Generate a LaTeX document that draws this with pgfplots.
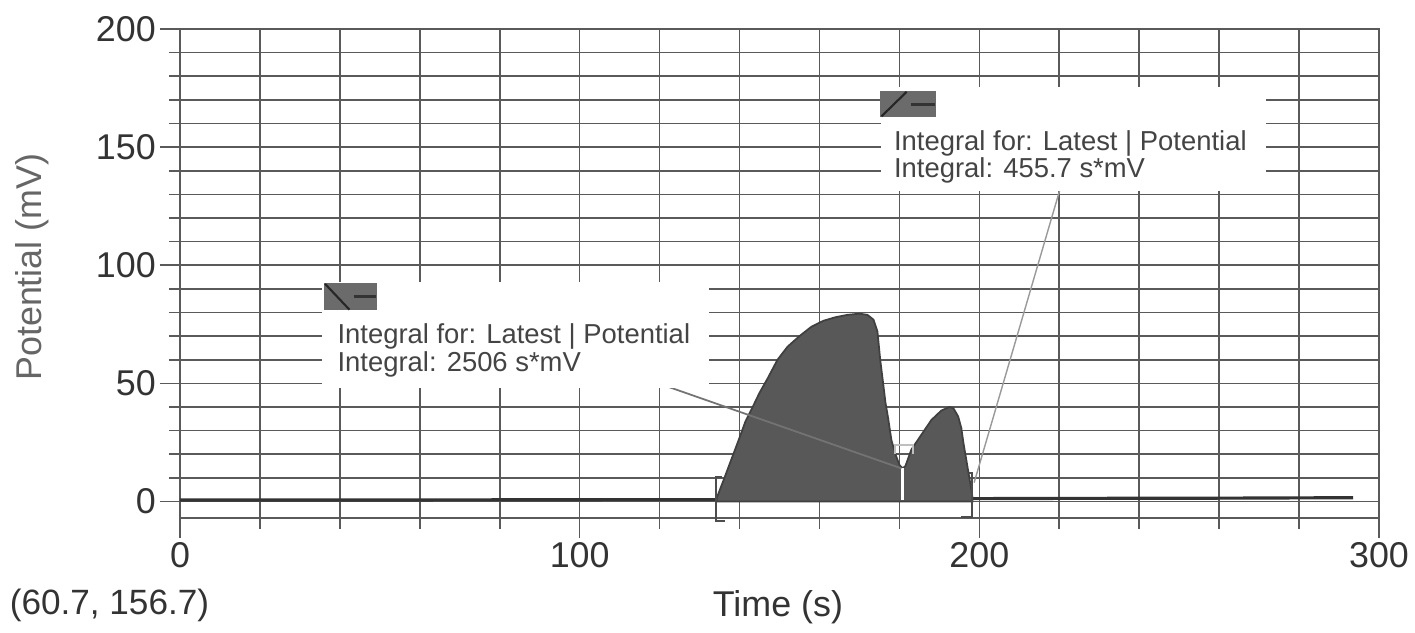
\documentclass[border=0pt]{standalone}
\usepackage{fontspec}
\setmainfont{Liberation Sans}
\usepackage{pgfplots}
\pgfplotsset{compat=1.18}
\usetikzlibrary{calc}
\definecolor{gridc}{HTML}{5A5A5A}
\definecolor{txt}{HTML}{333333}
\definecolor{lab}{HTML}{666666}
\definecolor{peak}{HTML}{585858}
\definecolor{boxtxt}{HTML}{444444}

\begin{document}
\begin{tikzpicture}
\begin{axis}[
  name=ax,
  scale only axis,
  width=119.9mm, height=48.9mm,
  xmin=0, xmax=300, ymin=-7, ymax=200,
  xtick={0,100,200,300},
  ytick={0,50,100,150,200},
  minor x tick num=4,
  minor y tick num=4,
  grid=both,
  major grid style={gridc, line width=0.45pt},
  minor grid style={gridc, line width=0.45pt},
  axis line style={gridc, line width=0.5pt},
  tick style={gridc, line width=0.45pt},
  tick align=outside,
  major tick length=2mm,
  minor tick length=1.1mm,
  xtick pos=bottom, ytick pos=left,
  /pgf/number format/assume math mode=true,
  ticklabel style={font=\fontsize{10.2}{12}\selectfont, text=txt, inner sep=1pt},
  xlabel={Time (s)},
  ylabel={Potential (mV)},
  label style={font=\fontsize{10.2}{12}\selectfont},
  xlabel style={at={(axis description cs:0.4987,-0.182)}, anchor=center, text=txt},
  ylabel style={at={(axis description cs:-0.1234,0.513)}, anchor=center, text=lab},
  clip=false,
]
% baseline trace
\addplot[black!80, line width=0.9pt] coordinates {
  (0,0.6) (40,0.6) (80,0.7) (120,0.8) (134.3,0.8)};
\addplot[black!80, line width=0.9pt] coordinates {
  (198.3,1.2) (220,1.3) (260,1.4) (293.5,1.6)};
% integrated peaks
\addplot[fill=peak, draw=black!75, line width=0.5pt] coordinates {
  (134.3,1.5) (136,9) (138,18) (140,27) (141.5,34) (143,39) (145,46)
  (147,52) (149.5,60) (152,65.5) (155,70) (158,74) (161,76.5) (164,78)
  (167,79) (170,79.5) (172,79) (173.5,77) (174.5,72) (175.2,60) (176,49)
  (176.5,42) (177.2,35) (178,26) (179,20) (180,15.5) (180.8,14) (181.5,15)
  (183,22) (185,27) (188,34.5) (190.5,38.5) (192.5,40) (193.5,39.5)
  (194.7,36) (195.5,31) (196,25) (196.7,18) (197.3,12) (198,5) (198.3,1.5)
} \closedcycle;
\addplot[white, line width=0.8pt] coordinates {(180.8,0.6) (180.8,14)};
% brackets
\addplot[black!70, line width=0.6pt] coordinates {(135.5,10.5) (134,10.5) (134,-8.3) (136.3,-8.3)};
\addplot[black!70, line width=0.6pt] coordinates {(197.5,12) (198.2,12) (198.2,-6.5) (195.5,-6.5)};
\addplot[black!25, line width=0.6pt] coordinates {(179,20) (179,24) (183.5,24) (183.5,20)};
% leader lines
\addplot[black!55, line width=0.5pt] coordinates {(118,51) (180.5,14)};
\addplot[black!40, line width=0.4pt] coordinates {(220.5,134) (198.7,8)};
% annotation boxes
\fill[white] (axis cs:35.5,47.9) rectangle (axis cs:132.3,92.8);
\fill[white] (axis cs:175.5,131.4) rectangle (axis cs:271.8,175.4);
\fill[black!58] (axis cs:36,80.9) rectangle (axis cs:49.25,92.4);
\draw[black!85, line width=0.6pt] (axis cs:36.3,92.1) -- (axis cs:42.4,81.2);
\draw[black!80, line width=0.8pt] (axis cs:43.5,86.6) -- (axis cs:49,86.6);
\fill[black!58] (axis cs:175.25,162.7) rectangle (axis cs:189.25,173.7);
\draw[black!85, line width=0.6pt] (axis cs:175.5,163) -- (axis cs:181.8,173.4);
\draw[black!80, line width=0.8pt] (axis cs:183,168.2) -- (axis cs:189,168.2);
\node[anchor=base west, inner sep=0pt, text=boxtxt, font=\fontsize{7.8}{9}\selectfont]
  at (axis cs:39.25,66.9) {Integral for: Latest | Potential};
\node[anchor=base west, inner sep=0pt, text=boxtxt, font=\fontsize{7.8}{9}\selectfont]
  at (axis cs:39.25,55.2) {Integral: 2506 s*mV};
\node[anchor=base west, inner sep=0pt, text=boxtxt, font=\fontsize{7.8}{9}\selectfont]
  at (axis cs:178.5,148.4) {Integral for: Latest | Potential};
\node[anchor=base west, inner sep=0pt, text=boxtxt, font=\fontsize{7.8}{9}\selectfont]
  at (axis cs:178.5,137.3) {Integral: 455.7 s*mV};
\node[anchor=center, text=txt, font=\fontsize{10}{12}\selectfont]
  at (axis description cs:-0.0588,-0.178) {(60.7, 156.7)};
\end{axis}
\pgfresetboundingbox
\path[use as bounding box] ($(ax.south west)+(-18mm,-11.4mm)$) rectangle ($(ax.north east)+(3.6mm,2.9mm)$);
\end{tikzpicture}
\end{document}
